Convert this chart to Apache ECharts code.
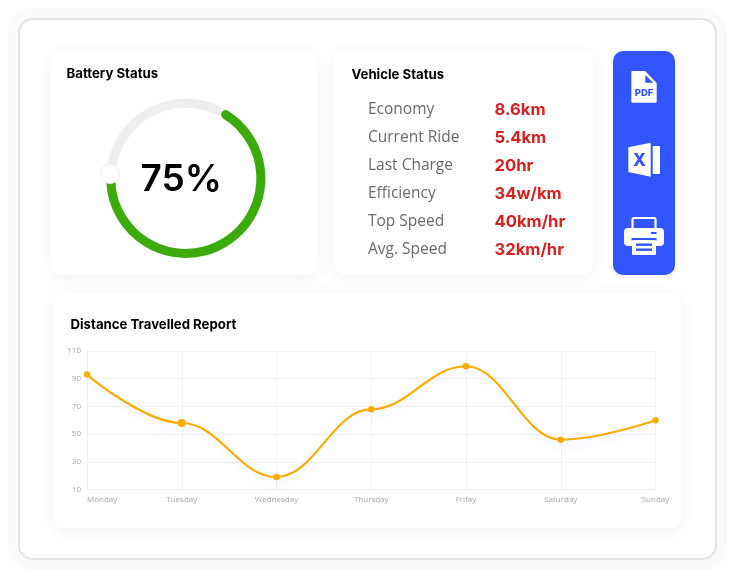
<!DOCTYPE html>
<html><head><meta charset="utf-8">
<style>html,body{margin:0;padding:0;background:#fff}#c{width:735px;height:578px}</style>
<script src="https://cdn.jsdelivr.net/npm/echarts@6/dist/echarts.min.js"></script>
</head><body><div id="c"></div>
<script>
const days = ['Monday','Tuesday','Wednesday','Thursday','Frifay','Saturday','Sunday'];
const distance = [93,58,19,68,99,46,60];
const yTicks = {min:10,max:110,interval:20};
const batteryPercent = 75;
const ringMax = 114.4; // the drawn ring shows 75 over about 236 degrees
const vehicleLabels = ['Economy','Current Ride','Last Charge','Efficiency','Top Speed','Avg. Speed'];
const vehicleValues = ['8.6km','5.4km','20hr','34w/km','40km/hr','32km/hr'];
const HEAD = 'Inter, "Open Sans", sans-serif';
const BODY = '"Open Sans", Inter, sans-serif';
const BLUE = '#3355FF', W = '#fff';

function card(x,y,w,h,r,fill,blur){
  return {type:'rect',z:1,shape:{x,y,width:w,height:h,r},
    style:{fill:fill||W,shadowBlur:blur===undefined?18:blur,shadowColor:'rgba(40,40,70,0.06)',shadowOffsetY:3}};
}
function txt(x,y,text,size,weight,fill,font,extra){
  return {type:'text',z:20,style:Object.assign({x,y,text,fontSize:size,fontWeight:weight,fill,fontFamily:font||HEAD,
    textVerticalAlign:'middle',textAlign:'left'},extra||{})};
}
const rows = [];
vehicleLabels.forEach((l,i)=>{
  const y = 109.5+i*28;
  rows.push(txt(368,y,l,15.5,400,'#6a6a6a',BODY));
  rows.push(txt(494.5,y,vehicleValues[i],16.6,700,'#D42222',HEAD));
});
const icons = [
  // PDF file
  {type:'polygon',z:20,shape:{points:[[632,71],[645,71],[656.7,83],[656.7,102],[656,102.7],[632,102.7],[631.3,102],[631.3,71.7]]},style:{fill:W}},
  {type:'polygon',z:21,shape:{points:[[645.3,75],[653.3,82.7],[645.3,82.7]]},style:{fill:BLUE}},
  txt(644,93.5,'PDF',9.5,800,BLUE,HEAD,{textAlign:'center'}),
  // Excel
  {type:'polygon',z:20,shape:{points:[[628.3,147.3],[650.7,142.7],[650.7,176.7],[628.3,172]]},style:{fill:W}},
  {type:'rect',z:20,shape:{x:652.7,y:146,width:7.3,height:28,r:0.8},style:{fill:W}},
  txt(639.5,160.5,'X',17,800,BLUE,HEAD,{textAlign:'center'}),
  // Printer
  {type:'rect',z:20,shape:{x:632.5,y:218,width:23,height:14,r:1.5},style:{fill:BLUE,stroke:W,lineWidth:2.2}},
  {type:'rect',z:21,shape:{x:624,y:228,width:40,height:18,r:4},style:{fill:W}},
  {type:'rect',z:22,shape:{x:650.7,y:232,width:6,height:2,r:1},style:{fill:BLUE}},
  {type:'rect',z:22,shape:{x:631.5,y:238,width:25,height:2.5},style:{fill:BLUE}},
  {type:'rect',z:23,shape:{x:632,y:240,width:24,height:15,r:1.5},style:{fill:W}},
  {type:'rect',z:24,shape:{x:636,y:243.5,width:16,height:2.4},style:{fill:BLUE}},
  {type:'rect',z:24,shape:{x:636,y:248.5,width:16,height:2.4},style:{fill:BLUE}}
];
const chart = echarts.init(document.getElementById('c'),null,{renderer:'canvas'});
chart.setOption({
  animation:false,
  backgroundColor:'#fff',
  graphic:{elements:[
    {type:'rect',z:0,shape:{x:8,y:8,width:719,height:562,r:24},style:{fill:'#FAFAFA'}},
    {type:'rect',z:0,shape:{x:19,y:19,width:697,height:540,r:14},style:{fill:W,stroke:'#E4E4E4',lineWidth:2}},
    card(51,51,266,223.5,9),
    card(334,51,259,223.5,9),
    card(613,51,62,224,10,BLUE,0),
    card(53,293,628,235,10),
    txt(66.5,74,'Battery Status',13.2,700,'#000'),
    txt(351.5,75,'Vehicle Status',13.2,700,'#000'),
    txt(70.5,325,'Distance Travelled Report',13.2,700,'#000'),
    {type:'circle',z:10,shape:{cx:110,cy:174,r:9.5},style:{fill:W,stroke:'#EEEEEE',lineWidth:1}},
    ...rows,...icons
  ]},
  grid:{left:87,right:79.5,top:351,bottom:88.5,containLabel:false},
  xAxis:{type:'category',data:days,boundaryGap:false,z:3,
    axisLine:{lineStyle:{color:'#EFEFF2'}},axisTick:{show:false},
    splitLine:{show:true,lineStyle:{color:'#F1F1F4',width:1}},
    axisLabel:{color:'#A8A8A8',fontSize:8,fontFamily:BODY,margin:6,alignMinLabel:'left',interval:0,hideOverlap:false}},
  yAxis:{type:'value',min:yTicks.min,max:yTicks.max,interval:yTicks.interval,z:3,
    axisLine:{show:true,lineStyle:{color:'#EFEFF2'}},axisTick:{show:false},
    splitLine:{lineStyle:{color:'#F1F1F4',width:1}},
    axisLabel:{color:'#A8A8A8',fontSize:8,fontFamily:BODY,margin:6}},
  series:[
    {type:'line',data:distance.map((v,i)=>({value:v,symbolSize:i===1?8:6.5})),smooth:0.4,smoothMonotone:'x',
      symbol:'circle',showSymbol:true,z:5,clip:false,
      lineStyle:{color:'#FFAB00',width:2.2,shadowColor:'rgba(70,100,255,0.13)',shadowBlur:10,shadowOffsetY:5},
      itemStyle:{color:'#FFAB00'}},
    {type:'gauge',center:[185.8,178.3],radius:79.6,startAngle:58,endAngle:-302,min:0,max:ringMax,z:5,
      axisLine:{roundCap:false,lineStyle:{width:9,color:[[1,'#EEEEF0']]}},
      progress:{show:true,width:9,roundCap:true,itemStyle:{color:'#3BAB0C'}},
      pointer:{show:false},axisTick:{show:false},splitLine:{show:false},axisLabel:{show:false},title:{show:false},
      detail:{show:true,valueAnimation:false,formatter:'{value}%',offsetCenter:[-4.5,2],fontSize:37,fontWeight:600,color:'#000',fontFamily:HEAD},
      data:[{value:batteryPercent}]}
  ]
});
</script></body></html>
